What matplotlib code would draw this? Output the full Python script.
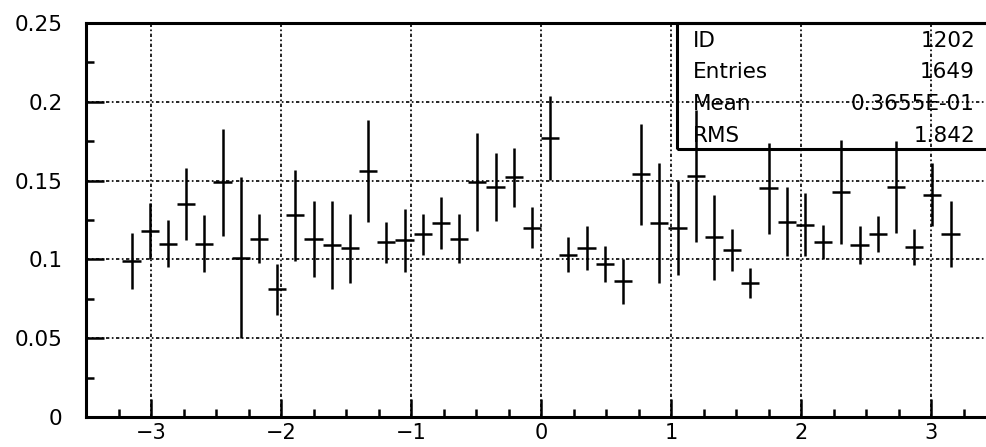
import numpy as np
import matplotlib
matplotlib.use('Agg')
import matplotlib.pyplot as plt
from matplotlib.patches import Rectangle

# histogram 1202: 50 bins from -3.5 to 3.5, filled bins 2..47
nbins = 50
xmin = -3.5
xmax = 3.5
first_bin = 2
contents = [0.099, 0.118, 0.110, 0.135, 0.110, 0.149, 0.101, 0.113, 0.081, 0.128,
            0.113, 0.109, 0.107, 0.156, 0.111, 0.112, 0.116, 0.123, 0.113, 0.149,
            0.146, 0.152, 0.120, 0.177, 0.103, 0.107, 0.097, 0.086, 0.154, 0.123,
            0.120, 0.153, 0.114, 0.106, 0.085, 0.145, 0.124, 0.122, 0.111, 0.143,
            0.109, 0.116, 0.146, 0.108, 0.141, 0.116]
errors = [0.018, 0.018, 0.015, 0.023, 0.018, 0.034, 0.051, 0.0155, 0.016, 0.029,
          0.024, 0.028, 0.022, 0.0325, 0.013, 0.020, 0.013, 0.0165, 0.0155, 0.031,
          0.0215, 0.019, 0.013, 0.0265, 0.011, 0.014, 0.0115, 0.0143, 0.032, 0.038,
          0.030, 0.042, 0.027, 0.0135, 0.0095, 0.029, 0.022, 0.020, 0.011, 0.033,
          0.012, 0.0115, 0.029, 0.0115, 0.020, 0.021]

stat_names = ['ID', 'Entries', 'Mean', 'RMS']
stat_values = ['1202', '1649', '0.3655E-01', '1.842']

edges = np.linspace(xmin, xmax, nbins + 1)
centers = 0.5 * (edges[:-1] + edges[1:])
x = centers[first_bin:first_bin + len(contents)]
half = 0.5 * (edges[1] - edges[0])

fig = plt.figure(figsize=(9.86, 4.47), dpi=100)
W, H = 986.0, 447.0
ax = fig.add_axes([86 / W, (H - 417) / H, (996 - 86) / W, (417 - 23) / H])

ax.errorbar(x, contents, yerr=errors, xerr=half, fmt='none',
            ecolor='black', elinewidth=1.8, capsize=0)

ax.set_xlim(xmin, xmax)
ax.set_ylim(0, 0.25)
ax.set_xticks([-3, -2, -1, 0, 1, 2, 3])
ax.set_xticks(np.arange(-3.25, 3.5, 0.25), minor=True)
ax.set_yticks([0, 0.05, 0.1, 0.15, 0.2, 0.25])
ax.set_yticklabels(['0', '0.05', '0.1', '0.15', '0.2', '0.25'])
ax.set_yticks(np.arange(0.025, 0.25, 0.05), minor=True)

ax.tick_params(which='both', direction='in', width=1.8, colors='black')
ax.tick_params(which='major', length=13)
ax.tick_params(which='minor', length=6)
ax.tick_params(axis='y', which='major', pad=17, labelsize=15.5)
ax.tick_params(axis='x', which='major', pad=4, labelsize=15)
for s in ax.spines.values():
    s.set_linewidth(2.2)

ax.grid(True, which='major', color='black', linewidth=1.2,
        linestyle=(0, (2, 1.5, 1, 1.5)))
ax.set_axisbelow(True)

# statistics box (transparent, right side cut off)
bx = (676.7 - 86) / 910.0
by = (417 - 149) / 394.0
ax.add_patch(Rectangle((bx, by), 1 - bx, 1 - by, transform=ax.transAxes,
                       fill=False, edgecolor='black', linewidth=2.2, clip_on=False))
baselines = [47, 78, 110, 142]
for name, val, yb in zip(stat_names, stat_values, baselines):
    fy = (H - yb) / H
    fig.text(693 / W, fy, name, fontsize=15.5, ha='left', va='baseline')
    fig.text(975 / W, fy, val, fontsize=15.5, ha='right', va='baseline')

fig.savefig('out.png', dpi=100)
